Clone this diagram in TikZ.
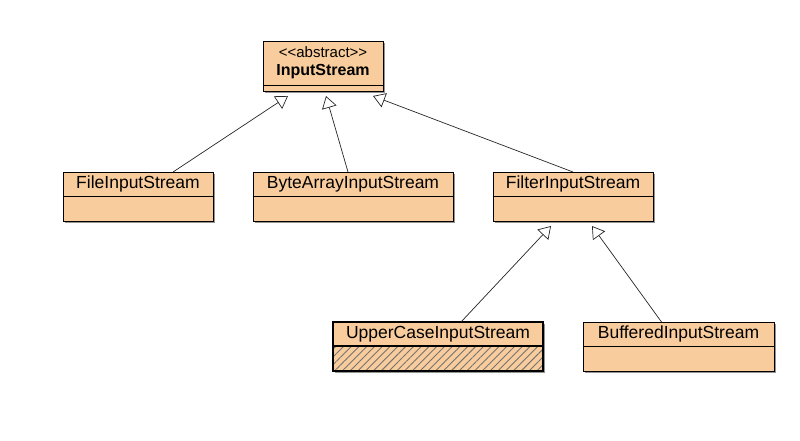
\documentclass[tikz,border=0pt]{standalone}
\usepackage{fontspec}
\setmainfont{Liberation Sans}
\usetikzlibrary{positioning, shadows, patterns.meta, arrows.meta}
\definecolor{classfill}{RGB}{248,204,156}

\begin{document}
\begin{tikzpicture}[x=1pt, y=-1pt,
    classbox/.style={draw, line width=0.8pt, fill=classfill, outer sep=0pt, inner sep=2pt,
      drop shadow={shadow xshift=2pt, shadow yshift=-2pt, opacity=0.7, fill=black!60}},
    classhead/.style={classbox, minimum height=24pt, font=\fontsize{17.5}{19}\selectfont},
    classbody/.style={classbox, minimum height=25pt},
    inherits/.style={draw=black!85, line width=0.7pt, -{Triangle[open, length=12pt, width=15pt, line width=0.7pt]}}]
  \useasboundingbox (0,0) rectangle (800,441);
  \node[classhead, minimum width=120pt, minimum height=44pt, anchor=north west, align=center] (input) at (263,41)
    {{\fontsize{15}{17}\selectfont <{}<abstract>{}>}\\[-1pt]\textbf{\fontsize{16}{18}\selectfont InputStream}};
  \node[classbody, minimum width=120pt, minimum height=6pt, inner sep=0pt, below=0pt of input] (inputbody) {};
  \node[classhead, minimum width=150pt, anchor=north west] (file) at (63,172) {FileInputStream};
  \node[classbody, minimum width=150pt, below=0pt of file] (filebody) {};
  \node[classhead, minimum width=200pt, anchor=north west] (byte) at (253,172) {ByteArrayInputStream};
  \node[classbody, minimum width=200pt, below=0pt of byte] (bytebody) {};
  \node[classhead, minimum width=160pt, anchor=north west] (filter) at (493,172) {FilterInputStream};
  \node[classbody, minimum width=160pt, below=0pt of filter] (filterbody) {};
  \node[classhead, minimum width=210pt, anchor=north west, line width=1.8pt] (upper) at (333,322) {UpperCaseInputStream};
  \node[classbody, minimum width=210pt, below=0pt of upper, line width=1.8pt,
    postaction={pattern={Lines[angle=45, distance=5.5pt, line width=0.9pt]}, pattern color=black!55}] (upperbody) {};
  \draw[line width=1.8pt] (upperbody.north west) rectangle (upperbody.south east);
  \node[classhead, minimum width=191pt, anchor=north west] (buffered) at (583,322) {BufferedInputStream};
  \node[classbody, minimum width=191pt, below=0pt of buffered] (bufferedbody) {};
  \draw[inherits] ([xshift=35pt]file.north) -- ([xshift=-35pt, yshift=-5pt]inputbody.south);
  \draw[inherits] ([xshift=-5pt]byte.north) -- ([xshift=3pt, yshift=-5pt]inputbody.south);
  \draw[inherits] (filter.north) -- ([xshift=50pt, yshift=-5pt]inputbody.south);
  \draw[inherits] ([xshift=23pt]upper.north) -- ([xshift=-22pt, yshift=-5pt]filterbody.south);
  \draw[inherits] ([xshift=-17pt]buffered.north) -- ([xshift=19pt, yshift=-5pt]filterbody.south);
\end{tikzpicture}
\end{document}
